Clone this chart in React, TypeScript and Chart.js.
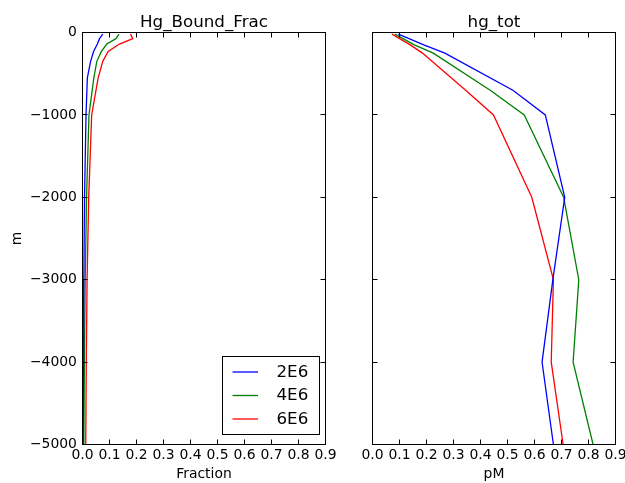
import React, { useEffect, useRef } from 'react';
import { Chart, registerables } from 'chart.js';

Chart.register(...registerables);

const FONT = '"DejaVu Sans", "Liberation Sans", sans-serif';

// Series
const seriesLabels = ['2E6', '4E6', '6E6'];
const seriesColors = ['#0000ff', '#008000', '#ff0000'];

// Left panel: Hg_Bound_Frac (depth in m, value as fraction)
const depthsFrac = [-20, -75, -140, -230, -350, -550, -1000, -2000, -3000, -4000, -5000];
const frac2E6 = [0.075, 0.063, 0.055, 0.041, 0.03, 0.018, 0.013, 0.0075, 0.005, 0.003, 0.002];
const frac4E6 = [0.135, 0.124, 0.09, 0.07, 0.053, 0.042, 0.024, 0.015, 0.01, 0.007, 0.005];
const frac6E6 = [0.178, 0.186, 0.137, 0.095, 0.075, 0.058, 0.034, 0.023, 0.017, 0.014, 0.012];

// Right panel: hg_tot (pM)
const depthsTot = [-20, -150, -250, -700, -1000, -2000, -3000, -4000, -5000];
const tot2E6 = [0.096, 0.19, 0.268, 0.52, 0.64, 0.712, 0.668, 0.628, 0.67];
const tot4E6 = [0.083, 0.155, 0.225, 0.436, 0.562, 0.708, 0.764, 0.743, 0.817];
const tot6E6 = [0.072, 0.14, 0.185, 0.345, 0.448, 0.59, 0.67, 0.662, 0.706];

// Axis settings
const xMin = 0;
const xMax = 0.9;
const xStep = 0.1;
const yMin = -5000;
const yMax = 0;
const yStep = 1000;

const pairs = (xs: number[], ys: number[]) => xs.map((v, i) => ({ x: v, y: ys[i] }));

const makeDatasets = (depths: number[], series: number[][]) =>
  series.map((vals, i) => ({
    label: seriesLabels[i],
    data: pairs(vals, depths),
    borderColor: seriesColors[i],
    backgroundColor: seriesColors[i],
    borderWidth: 1.3,
    pointRadius: 0,
    tension: 0,
    fill: false,
  }));

const fmtY = (v: number) => (v < 0 ? '\u2212' + Math.abs(v) : String(v));

const framePlugin = (title: string, withLegend: boolean) => ({
  id: 'frame_' + title,
  afterDraw(chart: any) {
    const { ctx, chartArea: a, scales } = chart;
    const xs = scales.x;
    const ys = scales.y;
    const L = 5;
    ctx.save();
    ctx.strokeStyle = '#000';
    ctx.lineWidth = 1;
    ctx.beginPath();
    xs.ticks.forEach((t: any) => {
      const p = Math.floor(xs.getPixelForValue(t.value)) + 0.5;
      ctx.moveTo(p, a.bottom);
      ctx.lineTo(p, a.bottom - L);
      ctx.moveTo(p, a.top);
      ctx.lineTo(p, a.top + L);
    });
    ys.ticks.forEach((t: any) => {
      const p = Math.floor(ys.getPixelForValue(t.value)) + 0.5;
      ctx.moveTo(a.left, p);
      ctx.lineTo(a.left + L, p);
      ctx.moveTo(a.right, p);
      ctx.lineTo(a.right - L, p);
    });
    ctx.stroke();
    ctx.strokeRect(a.left, a.top, a.right - a.left, a.bottom - a.top);

    // Title
    ctx.fillStyle = '#000';
    ctx.font = '16.7px ' + FONT;
    ctx.textAlign = 'center';
    ctx.textBaseline = 'alphabetic';
    ctx.fillText(title, (a.left + a.right) / 2, a.top - 5.8);

    if (withLegend) {
      const bx = 222.5;
      const by = 356.5;
      const bw = 97;
      const bh = 78;
      ctx.fillStyle = '#fff';
      ctx.fillRect(bx, by, bw, bh);
      ctx.strokeRect(bx, by, bw, bh);
      const rows = [371.5, 395, 418.5];
      chart.data.datasets.forEach((ds: any, i: number) => {
        ctx.strokeStyle = ds.borderColor;
        ctx.lineWidth = 1.3;
        ctx.beginPath();
        ctx.moveTo(232.5, rows[i] + 0.5);
        ctx.lineTo(258, rows[i] + 0.5);
        ctx.stroke();
        ctx.fillStyle = '#000';
        ctx.textAlign = 'left';
        ctx.textBaseline = 'middle';
        ctx.fillText(ds.label, 276.5, rows[i] + 1);
      });
    }
    ctx.restore();
  },
});

const tickFont = { family: FONT, size: 13.9 };

const makeConfig = (
  datasets: any[],
  title: string,
  xTitle: string,
  showYLabels: boolean,
  yAxisWidth: number,
  rightPad: number,
  withLegend: boolean
): any => ({
  type: 'line',
  data: { datasets },
  options: {
    animation: false,
    responsive: false,
    maintainAspectRatio: false,
    layout: { padding: { left: 0, right: rightPad, top: 32.5, bottom: 0 } },
    plugins: { legend: { display: false }, tooltip: { enabled: false }, title: { display: false } },
    scales: {
      x: {
        type: 'linear',
        position: 'bottom',
        min: xMin,
        max: xMax,
        grid: { display: false, drawTicks: false },
        border: { display: false },
        ticks: {
          stepSize: xStep,
          padding: 3,
          color: '#000',
          font: tickFont,
          maxRotation: 0,
          autoSkip: false,
          callback: (v: any) => Number(v).toFixed(1),
        },
        title: {
          display: true,
          text: xTitle,
          color: '#000',
          font: tickFont,
          padding: { top: 0, bottom: 0.7 },
        },
        afterFit: (s: any) => {
          s.height = 38.5;
          s.paddingLeft = 0;
          s.paddingRight = 0;
        },
      },
      y: {
        type: 'linear',
        position: 'left',
        min: yMin,
        max: yMax,
        grid: { display: false, drawTicks: false },
        border: { display: false },
        ticks: {
          display: showYLabels,
          stepSize: yStep,
          padding: 5.6,
          color: '#000',
          font: tickFont,
          callback: (v: any) => fmtY(Number(v)),
        },
        title: {
          display: showYLabels,
          text: 'm',
          color: '#000',
          font: tickFont,
          padding: { top: 8.7, bottom: 0 },
        },
        afterFit: (s: any) => {
          s.width = yAxisWidth;
          s.paddingTop = 0;
          s.paddingBottom = 0;
        },
      },
    },
  },
  plugins: [framePlugin(title, withLegend)],
});

export default function App() {
  const leftRef = useRef<HTMLCanvasElement>(null);
  const rightRef = useRef<HTMLCanvasElement>(null);

  useEffect(() => {
    const left = new Chart(
      leftRef.current as HTMLCanvasElement,
      makeConfig(
        makeDatasets(depthsFrac, [frac2E6, frac4E6, frac6E6]),
        'Hg_Bound_Frac',
        'Fraction',
        true,
        82.5,
        345 - 325.5,
        true
      )
    );
    const right = new Chart(
      rightRef.current as HTMLCanvasElement,
      makeConfig(
        makeDatasets(depthsTot, [tot2E6, tot4E6, tot6E6]),
        'hg_tot',
        'pM',
        false,
        372.5 - 345,
        280 - 270.5,
        false
      )
    );
    return () => {
      left.destroy();
      right.destroy();
    };
  }, []);

  return (
    <div style={{ position: 'absolute', left: 0, top: 0, width: 625, height: 483, background: '#fff', overflow: 'hidden' }}>
      <canvas
        ref={leftRef}
        width={345}
        height={483}
        style={{ position: 'absolute', left: 0, top: 0, width: 345, height: 483, display: 'block' }}
      />
      <canvas
        ref={rightRef}
        width={280}
        height={483}
        style={{ position: 'absolute', left: 345, top: 0, width: 280, height: 483, display: 'block' }}
      />
    </div>
  );
}
